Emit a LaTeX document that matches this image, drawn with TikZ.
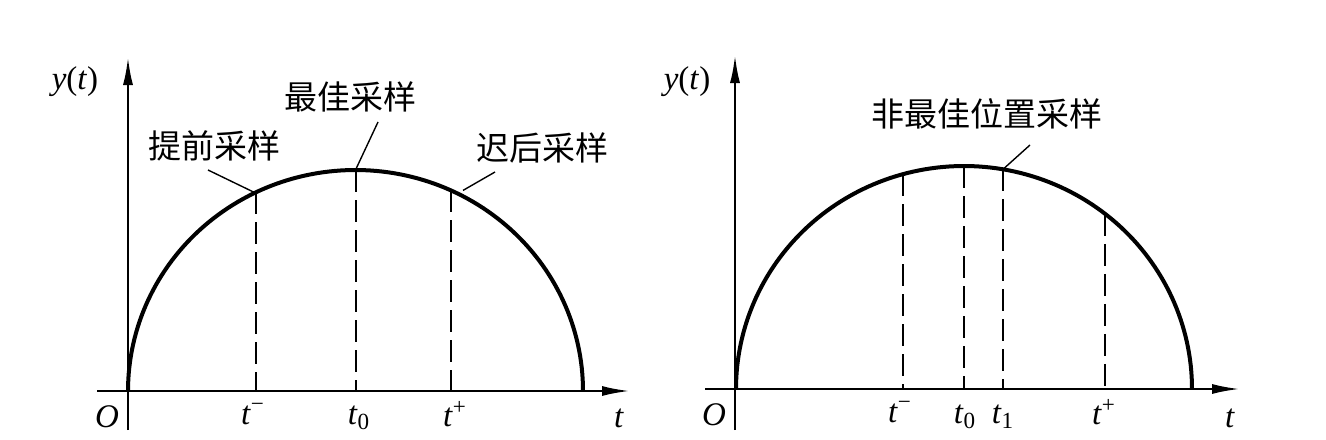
\documentclass[tikz,border=0pt]{standalone}
\usepackage{fontspec}
\setmainfont{Liberation Serif}
\newfontfamily\cjk{Noto Sans CJK SC}
\usetikzlibrary{arrows.meta,calc}
\tikzset{
  axisline/.style={line width=1.2pt,-{Latex[length=14pt,width=5pt]}},
  curveline/.style={line width=2pt},
  sampleline/.style={line width=1pt,dash pattern=on 11pt off 4pt},
  leaderline/.style={line width=0.7pt},
  mlabel/.style={inner sep=0pt,font=\fontsize{16.5}{19}\selectfont},
  clabel/.style={inner sep=0pt,font=\cjk\fontsize{16.5}{19}\selectfont}
}
\newcommand{\ti}{\textit{t}}
\begin{document}
\begin{tikzpicture}[x=0.5pt,y=-0.5pt]
\useasboundingbox[fill=white] (0,0) rectangle (1326,439);
% ---------- left diagram ----------
\def\Lcx{355.5}\def\La{227.5}\def\Lb{221}\def\Ly{391}
\coordinate (Lxs) at (97,391);
\coordinate (Lxe) at (630,391);
\coordinate (Lys) at (128,430);
\coordinate (Lye) at (128,57);
\draw[axisline] (Lxs) -- (Lxe);
\draw[axisline] (Lys) -- (Lye);
\draw[curveline] plot[domain=180:360,samples=120] ({\Lcx+\La*cos(\x)},{\Ly+\Lb*sin(\x)});
\foreach \nm/\xx in {Lm/256,Lz/355.5,Lp/451}{
  \coordinate (\nm top) at ({\xx},{\Ly-\Lb*sqrt(1-((\xx-\Lcx)/\La)^2)});
  \coordinate (\nm bot) at ({\xx},\Ly);
  \draw[sampleline] (\nm top) -- (\nm bot);
}
\node[mlabel] (Lyt) at (75,82) {\textit{y}(\textit{t})};
\node[mlabel] (LO) at (107,417) {\textit{O}};
\node[mlabel] (Ltm) at (253,414) {\ti\textsuperscript{−}};
\node[mlabel] (Lt0) at (359,418) {\ti\textsubscript{0}};
\node[mlabel] (Ltp) at (455,414) {\ti\textsuperscript{+}};
\node[mlabel] (Lt) at (619,418) {\ti};
\node[clabel] (Lbest) at (350,97) {最佳采样};
\node[clabel] (Learly) at (214,146) {提前采样};
\node[clabel] (Llate) at (542,148) {迟后采样};
\coordinate (Lbest1) at (378,122);
\coordinate (Learly1) at (208,170);
\coordinate (Llate1) at (495,172);
\draw[leaderline] (Lbest1) -- (Lztop);
\draw[leaderline] (Learly1) -- ($(Lmtop)+(-2,0)$);
\draw[leaderline] (Llate1) -- ($(Lptop)+(12,0)$);
% ---------- right diagram ----------
\def\Rcx{964}\def\Ra{228}\def\Rb{223}\def\Ry{389}
\coordinate (Rxs) at (705,389);
\coordinate (Rxe) at (1240,389);
\coordinate (Rys) at (735,430);
\coordinate (Rye) at (735,55);
\draw[axisline] (Rxs) -- (Rxe);
\draw[axisline] (Rys) -- (Rye);
\draw[curveline] plot[domain=180:360,samples=120] ({\Rcx+\Ra*cos(\x)},{\Ry+\Rb*sin(\x)});
\foreach \nm/\xx in {Rm/903,Rz/964,Ro/1003,Rp/1105}{
  \coordinate (\nm top) at ({\xx},{\Ry-\Rb*sqrt(1-((\xx-\Rcx)/\Ra)^2)});
  \coordinate (\nm bot) at ({\xx},\Ry);
  \draw[sampleline] (\nm top) -- (\nm bot);
}
\node[mlabel] (Ryt) at (687,82) {\textit{y}(\textit{t})};
\node[mlabel] (RO) at (714,415) {\textit{O}};
\node[mlabel] (Rtm) at (900,412) {\ti\textsuperscript{−}};
\node[mlabel] (Rt0) at (965,417) {\ti\textsubscript{0}};
\node[mlabel] (Rt1) at (1003,417) {\ti\textsubscript{1}};
\node[mlabel] (Rtp) at (1104,412) {\ti\textsuperscript{+}};
\node[mlabel] (Rt) at (1230,418) {\ti};
\node[clabel] (Rnon) at (987,114) {非最佳位置采样};
\coordinate (Rnon1) at (1030,145);
\draw[leaderline] (Rnon1) -- (Rotop);
\end{tikzpicture}
\end{document}
